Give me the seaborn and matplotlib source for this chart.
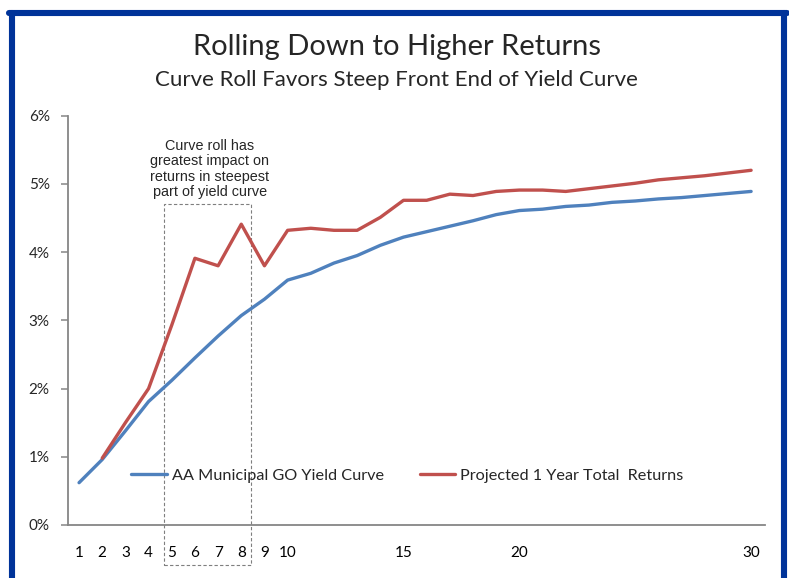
import numpy as np
import pandas as pd
from matplotlib import pyplot as plt
from matplotlib.lines import Line2D
from matplotlib.patches import Rectangle
import matplotlib.ticker as mtick
import seaborn as sns

years = list(range(1, 31))
yield_curve = [0.62, 0.96, 1.38, 1.81, 2.12, 2.45, 2.77, 3.07, 3.31, 3.59,
               3.69, 3.84, 3.95, 4.10, 4.22, 4.30, 4.38, 4.46, 4.55, 4.61,
               4.63, 4.67, 4.69, 4.73, 4.75, 4.78, 4.80, 4.83, 4.86, 4.89]
total_returns = [np.nan, 0.98, 1.50, 2.00, 2.93, 3.91, 3.80, 4.41, 3.80, 4.32,
                 4.35, 4.32, 4.32, 4.51, 4.76, 4.76, 4.85, 4.83, 4.89, 4.91,
                 4.91, 4.89, 4.93, 4.97, 5.01, 5.06, 5.09, 5.12, 5.16, 5.20]
series_names = ['AA Municipal GO Yield Curve', 'Projected 1 Year Total  Returns']
x_ticks = [1, 2, 3, 4, 5, 6, 7, 8, 9, 10, 15, 20, 30]
y_ticks = [0, 1, 2, 3, 4, 5, 6]

df = pd.DataFrame({
    'year': years * 2,
    'value': yield_curve + total_returns,
    'series': [series_names[0]] * 30 + [series_names[1]] * 30,
})

sns.set_style('white')
plt.rcParams['font.family'] = ['Lato', 'DejaVu Sans']

fig = plt.figure(figsize=(7.89, 5.78), dpi=100)
ax = fig.add_axes([0.0858, 0.0917, 0.8838, 0.7081])

sns.lineplot(data=df, x='year', y='value', hue='series',
             palette=['#4F81BD', '#C0504D'], linewidth=2.4, ax=ax)

ax.set_xlim(0.51, 30.6)
ax.set_ylim(0, 6)
ax.set_xticks(x_ticks)
ax.set_yticks(y_ticks)
ax.yaxis.set_major_formatter(mtick.StrMethodFormatter('{x:.0f}%'))
ax.set_xlabel('')
ax.set_ylabel('')
ax.tick_params(axis='x', length=0, pad=15, labelsize=11, colors='black')
ax.tick_params(axis='y', length=5, width=1.1, color='#868686', pad=8,
               labelsize=11, left=True)
sns.despine(ax=ax)
for s in ['left', 'bottom']:
    ax.spines[s].set_color('#868686')
    ax.spines[s].set_linewidth(1.3)

ax.legend(loc='center left', bbox_to_anchor=(0.07, 0.12), ncol=2,
          frameon=False, fontsize=11.7, handlelength=2.2, handletextpad=0.3,
          columnspacing=2.2)

# dashed box around steep section
box = Rectangle((4.67, -0.58), 3.74, 5.29, fill=False, edgecolor='#7f7f7f',
                linestyle=(0, (3, 2)), linewidth=0.8, clip_on=False)
ax.add_patch(box)
ax.text(6.65, 5.22, 'Curve roll has\ngreatest impact on\nreturns in steepest\npart of yield curve',
        ha='center', va='center', fontsize=10.4, family=['Liberation Sans'],
        linespacing=1.12)

fig.text(0.503, 0.919, 'Rolling Down to Higher Returns', ha='center', va='center',
         fontsize=21)
fig.text(0.503, 0.862, 'Curve Roll Favors Steep Front End of Yield Curve',
         ha='center', va='center', fontsize=16)

# blue frame, open at the bottom
blue = '#003399'
fig.add_artist(Line2D([12 / 789, 12 / 789], [-0.05, 1 - 13 / 578], color=blue, linewidth=4.4))
fig.add_artist(Line2D([784 / 789, 784 / 789], [-0.05, 1 - 13 / 578], color=blue, linewidth=4.4))
fig.add_artist(Line2D([9 / 789, 787 / 789], [1 - 13 / 578, 1 - 13 / 578], color=blue, linewidth=4.4))

fig.savefig('out.png', dpi=100)
